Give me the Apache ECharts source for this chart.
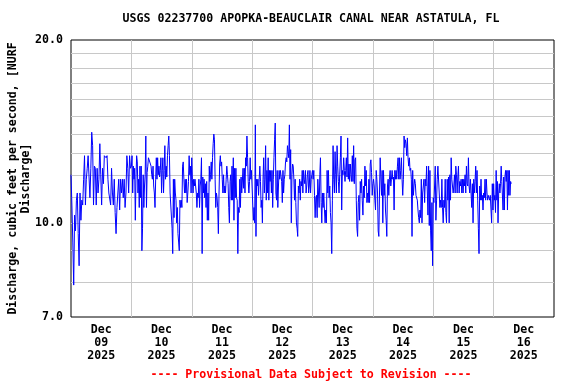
<!DOCTYPE html>
<html><head><meta charset="utf-8">
<script src="https://cdn.jsdelivr.net/npm/echarts@6/dist/echarts.min.js"></script>
<style>html,body{margin:0;padding:0;background:#fff}#c{width:576px;height:384px}</style>
</head><body><div id="c"></div>
<script>
const titleText = 'USGS 02237700 APOPKA-BEAUCLAIR CANAL NEAR ASTATULA, FL';
const yAxisName = 'Discharge, cubic feet per second, [NURF\nDischarge]';
const footerText = '---- Provisional Data Subject to Revision ----';
const xTickLabels = ['Dec\n09\n2025','Dec\n10\n2025','Dec\n11\n2025','Dec\n12\n2025','Dec\n13\n2025','Dec\n14\n2025','Dec\n15\n2025','Dec\n16\n2025'];
const yLabelValues = [7, 10, 20];
const yGridValues = [8, 9, 10, 11, 12, 13, 14, 15, 16, 17, 18, 19];
const yMin = 7, yMax = 20;
const lastDayStepMinutes = 15;

const flowDec09 = [12.0,10.7,9.3,7.9,10.3,9.7,10.9,11.2,9.6,8.5,11.2,10.1,10.9,10.7,11.8,12.9,10.7,11.8,12.3,12.9,12.9,11.0,12.3,14.1,13.4,10.7,12.4,12.3,10.7,12.3,11.2,11.8,13.5,12.0,10.7,12.3,11.6,12.9,12.9,12.8,12.9,11.8,11.2,11.2,10.7,12.3,11.2,10.7,11.8,10.4,9.6,10.6,11.2,11.8,10.5,11.8,11.2,11.8,11.0,11.8,10.6,11.2,12.9,12.3,11.2,12.9,12.3];
const flowDec10 = [12.4,12.9,11.2,12.4,11.8,12.3,10.1,11.8,12.9,12.6,11.2,11.8,10.6,12.4,11.0,12.4,9.0,9.8,12.0,10.6,11.5,12.0,13.9,10.6,12.1,12.4,12.8,12.8,12.8,12.8,12.4,12.0,11.8,12.4,11.5,11.2,10.6,11.8,12.8,11.8,12.8,12.0,12.4,11.9,12.2,12.8,11.2,12.2,12.8,11.2,12.2,13.4,11.8,12.4,11.9,12.9,13.4,13.9,12.9,11.2,11.2,11.2,9.8,8.9,11.8,10.2,11.8,11.2,10.9,10.0,10.6,9.6,9.3,9.0,10.9,10.6,10.9,10.6,12.4,12.6,11.8,11.2,11.8,11.2,11.8,10.8,11.2,11.7,12.9,12.0,12.4,11.2];
const flowDec11 = [12.8,11.8,11.2,11.8,11.5,11.8,11.8,11.2,10.6,11.2,11.0,11.8,10.6,11.5,11.8,12.8,8.9,11.9,11.2,11.8,11.0,11.6,10.6,11.7,10.1,11.2,10.1,12.4,11.7,12.0,12.6,11.8,12.8,13.5,14.0,13.7,11.8,10.6,11.2,11.0,10.6,9.6,11.2,12.5,12.9,12.4,12.6,11.8,11.2,12.0,11.2,11.5,11.2,11.8,12.4,12.0,11.6,10.6,10.0,11.7,12.0,10.9,12.4,10.9,12.8,10.1,12.3,11.0,12.3,11.0,10.9,8.9,10.6,10.4,11.8,10.6,11.9,11.2,11.2,12.3,11.4,12.3,11.2,12.8,12.4,13.9,12.8,11.7,11.2,11.7,12.8,11.8,12.2];
const flowDec12 = [12.2,10.7,10.1,10.6,10.0,14.5,9.5,11.8,11.5,11.8,11.1,11.8,12.4,11.7,10.6,10.9,10.0,11.8,12.8,11.2,11.8,13.4,10.9,12.2,11.2,12.8,10.9,12.2,11.7,12.2,11.2,12.2,10.6,11.8,12.8,13.7,14.6,11.2,10.9,12.2,10.6,11.5,12.2,11.8,12.2,12.2,11.7,10.8,12.2,11.2,11.8,12.0,12.6,12.8,12.6,13.4,13.1,12.8,14.5,11.8,13.2,10.0,12.0,12.5,12.4,11.8,10.9,11.8,10.8,10.0,9.8,9.5,11.5,11.2,11.8,10.9,11.7,11.5,12.2,11.2,12.2,11.8,11.6,12.2,11.2,11.5,12.0,12.2,11.2,11.5,12.2,11.2,11.8,12.0];
const flowDec13 = [12.2,11.8,12.2,11.1,10.2,11.0,11.1,10.2,11.8,11.2,10.6,12.0,12.8,10.8,10.0,11.2,10.6,11.2,10.5,10.0,10.5,10.0,12.2,11.2,12.2,11.0,11.5,10.4,10.0,8.9,10.9,13.4,11.8,11.2,13.1,12.0,11.2,13.4,12.4,11.7,11.2,12.0,12.8,13.9,10.5,12.2,12.0,12.8,12.2,11.7,12.2,12.8,11.9,13.8,11.8,12.5,11.7,12.5,12.0,11.7,12.9,11.7,13.4,11.6,12.7,12.8,10.9,9.8,9.5,10.8,11.1,10.1,11.7,11.2,11.8,10.9,10.3,11.5,11.0,12.4,11.5,12.2,10.8,11.2,10.8,11.8,10.8,12.5,12.7,12.1,11.1];
const flowDec14 = [11.6,11.8,11.5,10.9,10.5,12.2,11.8,11.2,9.7,9.5,11.2,12.8,11.9,11.1,12.2,10.0,12.2,11.1,11.6,10.5,10.1,9.5,11.5,11.8,11.1,11.8,12.2,11.5,11.8,12.2,11.8,11.9,10.5,12.2,11.8,12.2,11.8,12.4,12.8,11.8,12.8,11.8,12.2,12.8,11.8,11.1,11.8,13.9,13.3,13.7,13.5,12.9,13.8,12.8,12.4,12.8,12.2,12.3,11.8,9.5,12.2,11.1,11.5,11.8,11.6,11.1,11.1,10.9,10.5,10.2,10.0,10.5,10.2,11.8,10.0,11.2,11.5,11.8,10.8,11.8,11.5,12.4,12.4,10.3,12.4,9.9,12.2,9.7,9.0,10.8,8.5];
const flowDec15 = [11.0,10.8,11.5,12.4,10.1,10.9,11.8,12.4,12.4,11.2,10.6,10.9,10.6,11.8,10.6,10.0,10.9,10.6,11.8,10.4,10.0,11.8,10.9,11.9,10.0,12.0,10.9,12.8,11.8,11.5,11.2,11.5,12.0,11.2,12.4,12.0,11.2,11.9,12.4,11.2,11.7,11.5,11.8,11.2,11.8,11.2,11.8,11.5,12.0,11.2,12.4,11.6,11.5,12.8,11.5,11.2,11.8,11.2,10.6,11.6,10.0,11.8,11.2,11.7,12.4,11.2,12.2,10.9,9.8,8.9,11.5,10.9,11.8,10.9,11.1,10.5,11.2,11.0,11.8,10.9,11.8,11.2,10.9,11.1,11.1,10.9,11.1,11.1,10.0,11.6,10.5];
const flowDec16 = [11.6,10.9,11.1,10.4,12.2,10.9,11.7,10.0,11.2,11.6,11.2,11.6,12.4,11.7,11.7,10.5,11.9,10.5,11.9,12.2,11.7,12.2,10.5,12.2,11.1,12.2,11.1,11.7,11.6];

// x in hours since Dec 09 00:00; y on a log10 scale
const HOURS_PER_DAY = 24;
const xMin = 0, xMax = 8 * HOURS_PER_DAY;
const fullDays = [flowDec09, flowDec10, flowDec11, flowDec12, flowDec13, flowDec14, flowDec15];
const lg = v => Math.log10(v);
const seriesData = [];
fullDays.forEach((arr, d) => {
  const step = HOURS_PER_DAY / arr.length;
  arr.forEach((v, i) => seriesData.push([d * HOURS_PER_DAY + i * step, lg(v), v]));
});
flowDec16.forEach((v, i) => seriesData.push([7 * HOURS_PER_DAY + i * lastDayStepMinutes / 60, lg(v), v]));

const midnights = [1, 2, 3, 4, 5, 6, 7].map(d => d * HOURS_PER_DAY);
const noons = xTickLabels.map((_, d) => d * HOURS_PER_DAY + 12);

const FONT = 'DejaVu Sans Mono';
const chart = echarts.init(document.getElementById('c'), null, {renderer: 'canvas'});
chart.setOption({
  animation: false,
  backgroundColor: '#fff',
  title: [
    {text: titleText, left: 311, top: 12, textAlign: 'center', padding: 0,
     textStyle: {fontFamily: FONT, fontWeight: 'bold', fontSize: 11.6, color: '#000', lineHeight: 14}},
    {text: footerText, left: 311, top: 368, textAlign: 'center', padding: 0,
     textStyle: {fontFamily: FONT, fontWeight: 'bold', fontSize: 11.6, color: '#ff0000', lineHeight: 14}}
  ],
  grid: {left: 71, right: 22, top: 40, bottom: 67, show: true, borderColor: '#000', borderWidth: 1,
         backgroundColor: 'transparent', containLabel: false, outerBoundsMode: 'none'},
  xAxis: {
    type: 'value', min: xMin, max: xMax,
    axisLine: {show: false},
    axisTick: {show: false, customValues: midnights},
    splitLine: {show: true, lineStyle: {color: '#c8c8c8', width: 1}},
    axisLabel: {
      customValues: noons, margin: 6, lineHeight: 13, color: '#000',
      fontFamily: FONT, fontWeight: 'bold', fontSize: 11.6, hideOverlap: false,
      formatter: v => xTickLabels[Math.floor(v / HOURS_PER_DAY)]
    }
  },
  yAxis: {
    type: 'value', min: lg(yMin), max: lg(yMax),
    axisLine: {show: false},
    axisTick: {show: false, customValues: yGridValues.map(lg)},
    splitLine: {show: true, lineStyle: {color: '#c8c8c8', width: 1}},
    axisLabel: {
      customValues: yLabelValues.map(lg), margin: 8, color: '#000',
      fontFamily: FONT, fontWeight: 'bold', fontSize: 11.6,
      formatter: v => Math.pow(10, v).toFixed(1)
    },
    name: yAxisName, nameLocation: 'middle', nameRotate: 90, nameGap: 39, nameMoveOverlap: false,
    nameTextStyle: {fontFamily: FONT, fontWeight: 'bold', fontSize: 11.6, color: '#000', lineHeight: 13, align: 'center'}
  },
  series: [{
    type: 'line', data: seriesData, showSymbol: false, symbol: 'none',
    lineStyle: {color: '#0000ff', width: 1}, itemStyle: {color: '#0000ff'},
    sampling: null, silent: true
  }]
});
</script></body></html>
